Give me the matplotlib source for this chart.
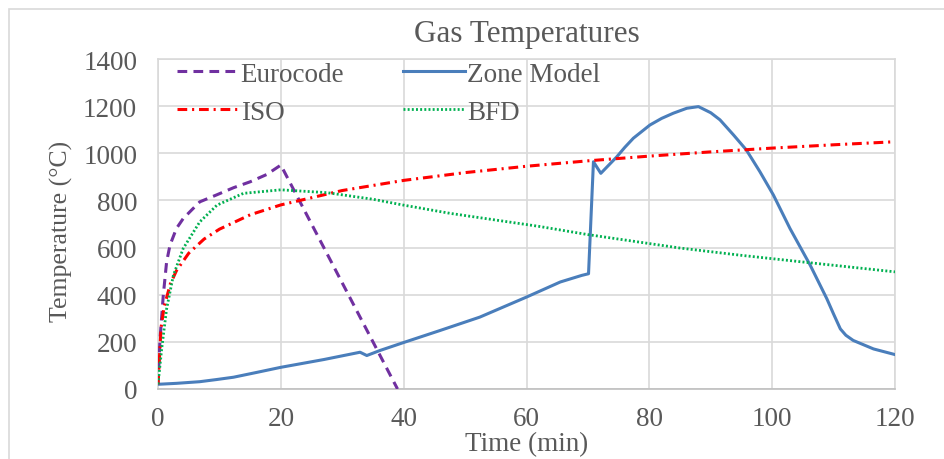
import matplotlib
matplotlib.use("Agg")
import matplotlib.pyplot as plt
from matplotlib.patches import Rectangle

plt.rcParams['font.family'] = ['Liberation Serif', 'DejaVu Serif']
plt.rcParams['lines.scale_dashes'] = False

TEXT = "#595959"
GRID = "#d9d9d9"

# Eurocode parametric fire
euro_t = [0, 0.33, 0.86, 1.4, 1.95, 3, 4.1, 5.5, 6.8, 9.5, 12.3, 15, 17.7, 20, 39]
euro_T = [20, 213, 397, 539, 610, 681, 723, 760, 794, 823, 854, 879, 910, 950, 0]

# ISO 834 standard fire
iso_t = [0, 0.5, 1, 2, 3, 5, 7.5, 10, 15, 20, 30, 40, 50, 60, 70, 80, 90, 100, 110, 120]
iso_T = [20, 261, 349, 445, 502, 576, 636, 678, 739, 781, 842, 885, 918, 945, 968,
         988, 1006, 1022, 1036, 1049]

# zone model output
zone_t = [0, 3, 6.8, 9.5, 12.3, 16, 20, 27, 32.9, 34, 36.1, 40.2, 45.9, 52.4, 60, 65.5,
          69, 70.1, 70.9, 72.1, 74.7, 76, 77.4, 80.1, 82, 83.9, 86.1, 88, 90, 91.5,
          93.7, 95.8, 98, 100.2, 102.9, 106.2, 108.9, 110, 111.1, 112, 113.2, 116.5, 120]
zone_T = [20, 24, 31, 40, 50, 70, 92, 125, 156, 142, 163, 199, 248, 305, 390, 454,
          482, 489, 964, 915, 985, 1025, 1064, 1120, 1148, 1170, 1191, 1198, 1172, 1142,
          1078, 1014, 922, 823, 681, 525, 383, 318, 255, 228, 206, 170, 146]

# BFD curve
bfd_t = [0, 0.6, 1.4, 2.5, 4.1, 6.8, 9.6, 13.9, 20, 27.5, 35, 40, 47.6, 62, 70, 85,
         95, 106, 120]
bfd_T = [20, 170, 340, 482, 596, 709, 780, 830, 845, 833, 805, 780, 745, 690, 655, 598,
         567, 536, 497]

x_ticks = [0, 20, 40, 60, 80, 100, 120]
y_ticks = [0, 200, 400, 600, 800, 1000, 1200, 1400]

fig = plt.figure(figsize=(9.44, 4.6), dpi=100)
ax = fig.add_axes([158 / 944, 1 - 390 / 460, 737 / 944, 330 / 460])

# chart area border
fig.patches.append(Rectangle((9 / 944, -0.1), 1.2, 1 - 10 / 460 + 0.1,
                             transform=fig.transFigure, fill=False,
                             edgecolor=GRID, lw=1.2))

ax.plot(zone_t, zone_T, color="#4a7ebb", lw=2.2, label="Zone Model", zorder=3)
ax.plot(euro_t, euro_T, color="#7030a0", lw=2.2, dashes=(7, 4.5), label="Eurocode", zorder=3)
ax.plot(iso_t, iso_T, color="#ff0000", lw=2.2, dashes=(7, 3.5, 1.5, 3.5), label="ISO", zorder=3)
ax.plot(bfd_t, bfd_T, color="#00b050", lw=2.0, dashes=(1.4, 1.6), label="BFD", zorder=3)

ax.set_xlim(0, 120)
ax.set_ylim(0, 1400)
ax.set_xticks(x_ticks)
ax.set_yticks(y_ticks)
ax.grid(True, color=GRID, lw=1.2)
ax.set_axisbelow(True)
ax.tick_params(length=0, labelsize=19.5, labelcolor=TEXT)
ax.tick_params(axis='y', pad=15)
ax.tick_params(axis='x', pad=12)
for name, sp in ax.spines.items():
    sp.set_color(GRID)
    sp.set_linewidth(1.2)
ax.spines['bottom'].set_color("#bfbfbf")

ax.set_title("Gas Temperatures", fontsize=22.5, color=TEXT, pad=13)
ax.set_xlabel("Time (min)", fontsize=19.5, color=TEXT, labelpad=0)
ax.set_ylabel("Temperature (°C)", fontsize=18.5, color=TEXT)
ax.yaxis.set_label_coords(-0.1153, 0.48)

h, l = ax.get_legend_handles_labels()
order = [1, 2, 0, 3]
ax.legend([h[i] for i in order], [l[i] for i in order], ncol=2, loc="upper left",
          bbox_to_anchor=(0.026, 0.992), frameon=False, fontsize=19.5,
          handlelength=2.26, handletextpad=0.08, columnspacing=2.19,
          labelspacing=0.48, borderpad=0, borderaxespad=0, labelcolor=TEXT)

fig.savefig("out.png", dpi=100)
